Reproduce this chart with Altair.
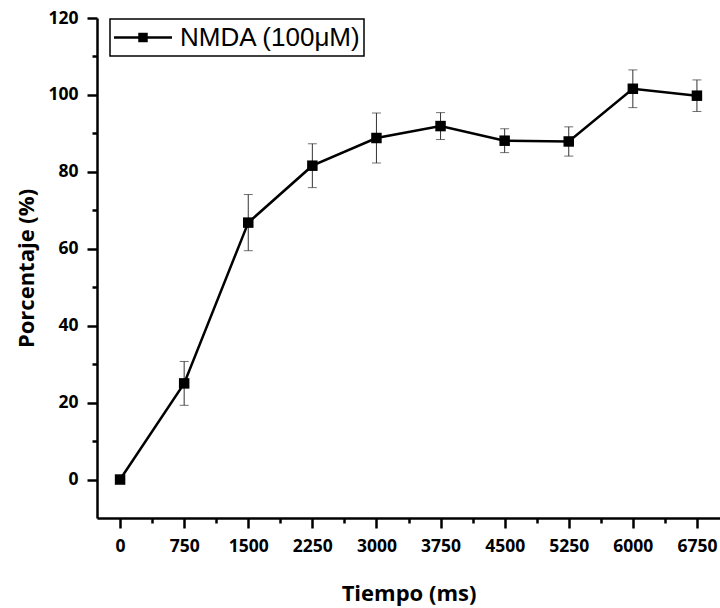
import altair as alt
import pandas as pd

# ---- data ----
times = [0, 750, 1500, 2250, 3000, 3750, 4500, 5250, 6000, 6750]
means = [0, 25.0, 66.8, 81.6, 88.8, 91.9, 88.1, 87.9, 101.6, 99.8]
errors = [0, 5.7, 7.3, 5.7, 6.5, 3.5, 3.1, 3.8, 4.9, 4.1]
series_label = ["NMDA (100\u03bcM)"]
x_tick_values = [i * 375 for i in range(0, 19)]
y_tick_values = [i * 10 for i in range(0, 13)]

df = pd.DataFrame({"t": times, "v": means, "e": errors})
df["lo"] = df["v"] - df["e"]
df["hi"] = df["v"] + df["e"]

FONT = "Open Sans"

xscale = alt.Scale(domain=[-270, 7020], nice=False, zero=False)
yscale = alt.Scale(domain=[-10, 120], nice=False, zero=False)

common_axis = dict(
    grid=False,
    domainColor="black",
    domainWidth=2.5,
    tickColor="black",
    tickWidth=2.5,
    labelFont=FONT,
    labelFontSize=17.5,
    labelFontWeight="bold",
    labelColor="black",
    labelOverlap=False,
    labelFlush=False,
    titleFont=FONT,
    titleFontSize=22,
    titleFontWeight="bold",
    titleColor="black",
)

x_axis = alt.Axis(
    title="Tiempo (ms)",
    values=x_tick_values,
    format="d",
    labelExpr="datum.value % 750 === 0 ? datum.label : ''",
    tickSize={"condition": {"test": "datum.value % 750 === 0", "value": 10}, "value": 5},
    labelPadding=9,
    titlePadding=29,
    **common_axis,
)
y_axis = alt.Axis(
    title="Porcentaje (%)",
    values=y_tick_values,
    format="d",
    labelExpr="datum.value % 20 === 0 ? datum.label : ''",
    tickSize={"condition": {"test": "datum.value % 20 === 0", "value": 10}, "value": 5},
    labelPadding=9,
    titlePadding=9,
    **common_axis,
)

X = alt.X("t:Q", scale=xscale, axis=x_axis)

errbars = (
    alt.Chart(df)
    .transform_filter("datum.e > 0")
    .mark_errorbar(ticks=True, size=9, thickness=1, color="#333333")
    .encode(x=X, y=alt.Y("lo:Q", scale=yscale, axis=y_axis), y2="hi:Q")
)

line = alt.Chart(df).mark_line(color="black", strokeWidth=2.5).encode(
    x=X, y=alt.Y("v:Q", scale=yscale, axis=y_axis)
)

points = alt.Chart(df).mark_point(
    shape="square", filled=True, size=110, color="black", opacity=1
).encode(x=X, y=alt.Y("v:Q", scale=yscale, axis=y_axis))

# ---- legend (drawn manually) ----
leg_df = pd.DataFrame({"label": series_label})
leg_box = alt.Chart(leg_df).mark_rect(
    fill="white", stroke="black", strokeWidth=1.5
).encode(x=alt.value(13), x2=alt.value(267), y=alt.value(1), y2=alt.value(38))
leg_line = alt.Chart(leg_df).mark_rule(color="black", strokeWidth=2.5).encode(
    x=alt.value(17), x2=alt.value(75), y=alt.value(19.5)
)
leg_sq = alt.Chart(leg_df).mark_point(
    shape="square", filled=True, size=90, color="black", opacity=1
).encode(x=alt.value(46), y=alt.value(19.5))
leg_text = alt.Chart(leg_df).mark_text(
    align="left", baseline="middle", font="Liberation Sans", fontSize=26, color="black"
).encode(x=alt.value(83), y=alt.value(20), text="label:N")

chart = (
    alt.layer(errbars, line, points, leg_box, leg_line, leg_sq, leg_text)
    .properties(
        width=623,
        height=500,
        autosize=alt.AutoSizeParams(type="none"),
        padding={"left": 97, "top": 18, "right": 0, "bottom": 90},
        background="white",
    )
    .configure_view(stroke=None)
)

chart.save("out.html", embed_options={"renderer": "svg", "actions": False})
